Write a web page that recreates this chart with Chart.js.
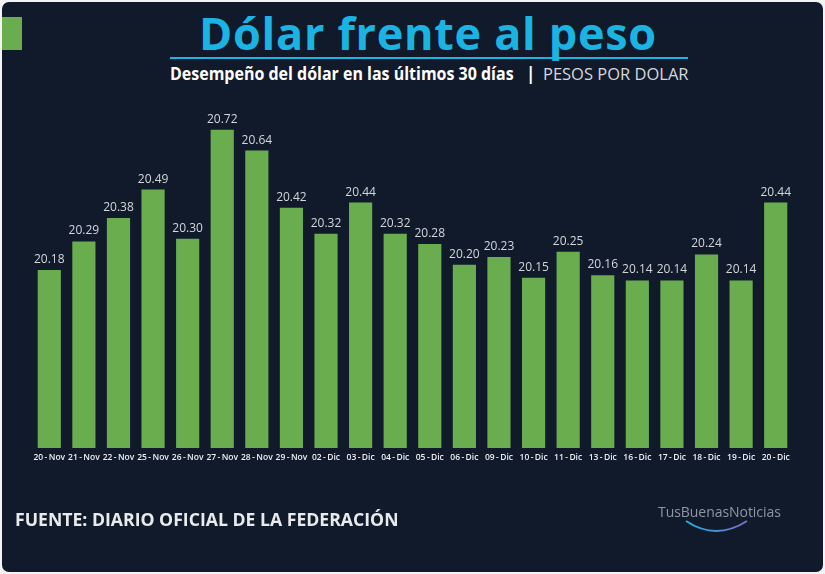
<!DOCTYPE html>
<html>
<head>
<meta charset="utf-8">
<script src="https://cdn.jsdelivr.net/npm/chart.js@4.4.0/dist/chart.umd.min.js"></script>
<style>
  html, body { margin: 0; padding: 0; background: #f4f4f4; }
  #panel {
    position: absolute; left: 2px; top: 2px; width: 821px; height: 570px;
    background: #111a2a; border-radius: 7px; overflow: hidden;
  }
  #chartBox { position: absolute; left: 0; top: 0; width: 825px; height: 574px; }
  .txt { position: absolute; white-space: nowrap; font-family: "Open Sans", sans-serif; }
  #greenTag { position: absolute; left: 2px; top: 17px; width: 20px; height: 33px; background: #6aad4f; }
  #title { left: 199px; top: 2px; font-size: 45px; font-weight: 700; color: #1bb4e2; letter-spacing: 0.7px; }
  #rule { position: absolute; left: 170px; top: 57px; width: 518px; height: 2px; background: #1bb4e2; }
  #sub { left: 170px; top: 62px; font-size: 17px; font-weight: 700; color: #ffffff; transform-origin: left top; transform: scaleX(0.94); }
  #bar { left: 526px; top: 62px; font-size: 17px; font-weight: 700; color: #ffffff; }
  #unit { left: 543px; top: 62px; font-size: 17px; font-weight: 400; color: #d6d8dc; transform-origin: left top; transform: scaleX(0.97); }
  #source { left: 15px; top: 507px; font-size: 18px; font-weight: 700; color: #e9eaec; transform-origin: left top; transform: scaleX(0.98); }
  #logo { left: 658px; top: 502px; font-size: 14px; color: #8d96a3; letter-spacing: -0.05px; }
  #arc { position: absolute; left: 683px; top: 519px; }
</style>
</head>
<body>
<div id="panel"></div>
<div id="greenTag"></div>
<div class="txt" id="title">Dólar frente al peso</div>
<div id="rule"></div>
<div class="txt" id="sub">Desempeño del dólar en las últimos 30 días</div>
<div class="txt" id="bar">|</div>
<div class="txt" id="unit">PESOS POR DOLAR</div>
<div id="chartBox"><canvas id="myChart"></canvas></div>
<div class="txt" id="source">FUENTE: DIARIO OFICIAL DE LA FEDERACIÓN</div>
<div class="txt" id="logo">TusBuenasNoticias</div>
<svg id="arc" width="70" height="18">
  <defs>
    <linearGradient id="g" x1="0" x2="1" y1="0" y2="0">
      <stop offset="0" stop-color="#1bb4e2"/>
      <stop offset="1" stop-color="#7b6fc9"/>
    </linearGradient>
  </defs>
  <path d="M3 2 Q 33 22 64 2" stroke="url(#g)" stroke-width="2" fill="none"/>
</svg>

<script>
let days = ['20 - Nov', '21 - Nov', '22 - Nov', '25 - Nov', '26 - Nov', '27 - Nov', '28 - Nov', '29 - Nov',
    '02 - Dic', '03 - Dic', '04 - Dic', '05 - Dic', '06 - Dic', '09 - Dic', '10 - Dic', '11 - Dic',
    '13 - Dic', '16 - Dic', '17 - Dic', '18 - Dic', '19 - Dic', '20 - Dic'];

let pesosPorDolar = [20.18, 20.29, 20.38, 20.49, 20.30, 20.72, 20.64, 20.42,
    20.32, 20.44, 20.32, 20.28, 20.20, 20.23, 20.15, 20.25,
    20.16, 20.14, 20.14, 20.24, 20.14, 20.44];

// the picture uses thin spaces around the dash
let tickLabels = days.map(d => d.replace(' - ', '\u2009-\u2009'));


// values written above each bar
let valueLabels = {
    id: 'valueLabels',
    afterDatasetsDraw(chart) {
        const ctx = chart.ctx;
        const meta = chart.getDatasetMeta(0);
        ctx.save();
        ctx.font = '12px "Open Sans"';
        ctx.fillStyle = '#d3d7dc';
        ctx.textAlign = 'center';
        ctx.textBaseline = 'alphabetic';
        meta.data.forEach((bar, i) => {
            ctx.fillText(pesosPorDolar[i].toFixed(2), bar.x, bar.y - 7);
        });
        ctx.restore();
    }
};

const ctx = document.getElementById('myChart');

new Chart(ctx, {
    type: 'bar',
    data: {
        labels: tickLabels,
        datasets: [{
            data: pesosPorDolar,
            backgroundColor: '#6aad4f',
            borderWidth: 0,
            barPercentage: 0.67,
            categoryPercentage: 1
        }]
    },
    options: {
        responsive: true,
        maintainAspectRatio: false,
        animation: false,
        layout: { padding: { left: 32, right: 32, top: 83, bottom: 106 } },
        plugins: {
            legend: { display: false },
            tooltip: { enabled: false }
        },
        scales: {
            x: {
                grid: { display: false, drawTicks: false },
                border: { display: false },
                ticks: {
                    color: '#eceef1',
                    font: { family: 'Open Sans', size: 8.5, weight: '600' },
                    padding: 4,
                    maxRotation: 0,
                    autoSkip: false
                },
                afterFit(scale) { scale.height = 20; }
            },
            y: {
                display: false,
                min: 19.495,
                max: 20.90
            }
        }
    },
    plugins: [valueLabels]
});
</script>
</body>
</html>
